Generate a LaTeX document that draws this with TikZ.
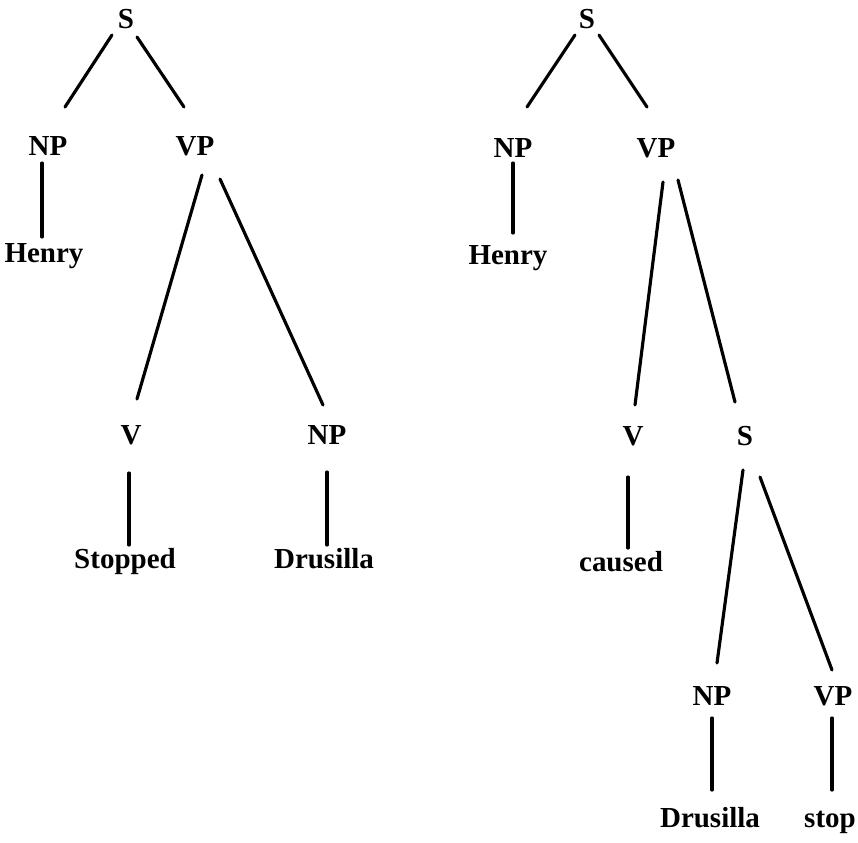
\documentclass[tikz,border=0pt]{standalone}
\usepackage{fontspec}
\setmainfont{Liberation Serif}
\usetikzlibrary{positioning}
\tikzset{
  lbl/.style={font=\fontsize{16.5}{19}\selectfont\bfseries,anchor=base,inner sep=0pt},
  br/.style ={line width=1.8pt,line cap=round,black},
}
\begin{document}
\begin{tikzpicture}[x=0.02cm,y=-0.02cm]
\useasboundingbox (0,0) rectangle (858,842);
% left tree
\node[lbl] (s1) at (126,28) {S};
\node[lbl] (np1) at (48,155) {NP};
\node[lbl] (vp1) at (195,155) {VP};
\node[lbl] (henry1) at (44,262) {Henry};
\node[lbl] (v1) at (131,444) {V};
\node[lbl] (np2) at (327,444) {NP};
\node[lbl] (stopped) at (125,568) {Stopped};
\node[lbl] (drus1) at (324,568) {Drusilla};
\draw[br] ([shift={(-14,7)}]s1.base) -- ([shift={(17,-48)}]np1.base);
\draw[br] ([shift={(11,9)}]s1.base) -- ([shift={(-11,-48)}]vp1.base);
\draw[br] ([shift={(-6,8)}]np1.base) -- ([shift={(-2,-25)}]henry1.base);
\draw[br] ([shift={(7,20)}]vp1.base) -- ([shift={(6,-45)}]v1.base);
\draw[br] ([shift={(25,24)}]vp1.base) -- ([shift={(-4,-39)}]np2.base);
\draw[br] ([shift={(-2,29)}]v1.base) -- ([shift={(4,-23)}]stopped.base);
\draw[br] ([shift={(0,28)}]np2.base) -- ([shift={(3,-23)}]drus1.base);
% right tree
\node[lbl] (s2) at (587,28) {S};
\node[lbl] (np3) at (513,157) {NP};
\node[lbl] (vp2) at (656,157) {VP};
\node[lbl] (henry2) at (508,264) {Henry};
\node[lbl] (v2) at (633,445) {V};
\node[lbl] (s3) at (745,445) {S};
\node[lbl] (caused) at (621,571) {caused};
\node[lbl] (np4) at (712,705) {NP};
\node[lbl] (vp4) at (833,705) {VP};
\node[lbl] (drus2) at (710,827) {Drusilla};
\node[lbl] (stop) at (830,827) {stop};
\draw[br] ([shift={(-12,7)}]s2.base) -- ([shift={(14,-50)}]np3.base);
\draw[br] ([shift={(12,7)}]s2.base) -- ([shift={(-9,-50)}]vp2.base);
\draw[br] ([shift={(0,6)}]np3.base) -- ([shift={(5,-31)}]henry2.base);
\draw[br] ([shift={(7,25)}]vp2.base) -- ([shift={(2,-40)}]v2.base);
\draw[br] ([shift={(22,23)}]vp2.base) -- ([shift={(-10,-43)}]s3.base);
\draw[br] ([shift={(-5,32)}]v2.base) -- ([shift={(7,-23)}]caused.base);
\draw[br] ([shift={(-2,25)}]s3.base) -- ([shift={(5,-42)}]np4.base);
\draw[br] ([shift={(15,32)}]s3.base) -- ([shift={(-1,-35)}]vp4.base);
\draw[br] ([shift={(0,13)}]np4.base) -- ([shift={(2,-37)}]drus2.base);
\draw[br] ([shift={(-1,13)}]vp4.base) -- ([shift={(2,-37)}]stop.base);
\end{tikzpicture}
\end{document}
